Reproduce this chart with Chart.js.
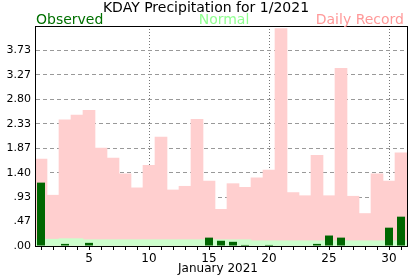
<!DOCTYPE html>
<html>
<head>
<meta charset="utf-8">
<script src="https://cdn.jsdelivr.net/npm/chart.js@4.4.1/dist/chart.umd.min.js"></script>
<style>
  html, body { margin: 0; padding: 0; background: #fff; }
  #wrap { width: 417px; height: 276px; }
</style>
</head>
<body>
<div id="wrap"><canvas id="chart"></canvas></div>
<script>
const days = ['1','2','3','4','5','6','7','8','9','10','11','12','13','14','15','16',
              '17','18','19','20','21','22','23','24','25','26','27','28','29','30','31'];
const observed = [1.21, 0, 0.04, 0, 0.06, 0, 0, 0, 0, 0, 0, 0, 0, 0, 0.16, 0.10,
                  0.08, 0.02, 0, 0.02, 0, 0, 0, 0.04, 0.20, 0.16, 0, 0, 0, 0.35, 0.56];
const normal = [0.13, 0.13, 0.14, 0.14, 0.12, 0.12, 0.12, 0.12, 0.12, 0.12, 0.12, 0.12, 0.12, 0.12, 0.12, 0.12,
                0.12, 0.12, 0.10, 0.10, 0.10, 0.10, 0.10, 0.10, 0.10, 0.10, 0.10, 0.10, 0.10, 0.10, 0.10];
const record = [1.66, 0.97, 2.41, 2.50, 2.59, 1.87, 1.68, 1.38, 1.11, 1.54, 2.08, 1.07, 1.14, 2.42, 1.24, 0.70,
                1.19, 1.12, 1.30, 1.45, 4.15, 1.02, 0.96, 1.73, 0.96, 3.39, 0.95, 0.62, 1.38, 1.24, 1.78];
const yTickValues = [0, 0.4667, 0.9333, 1.4, 1.8667, 2.3333, 2.8, 3.2667, 3.7333, 4.2];
const yTickLabels = ['.00', '.47', '.93', '1.40', '1.87', '2.33', '2.80', '3.27', '3.73', ''];
const xLabelDays = ['5', '10', '15', '20', '25', '30'];
const xGridDays = ['10', '20', '30'];

const FONT = '"DejaVu Sans", Verdana, sans-serif';

const frame = {
  id: 'frame',
  afterDraw(chart) {
    const { ctx, chartArea: a } = chart;
    ctx.save();
    ctx.strokeStyle = '#000';
    ctx.lineWidth = 1;
    ctx.strokeRect(a.left + 0.5, a.top + 0.5, a.right - a.left, a.bottom - a.top);

    ctx.textBaseline = 'alphabetic';
    ctx.font = '14px ' + FONT;
    ctx.fillStyle = '#000';
    ctx.textAlign = 'center';
    ctx.fillText('KDAY Precipitation for 1/2021', 206, 12);

    ctx.textAlign = 'left';
    ctx.fillStyle = '#007000';
    ctx.fillText('Observed', 36, 24);
    ctx.textAlign = 'center';
    ctx.fillStyle = '#90ff90';
    ctx.fillText('Normal', 224, 24);
    ctx.textAlign = 'right';
    ctx.fillStyle = '#ff9999';
    ctx.fillText('Daily Record', 404, 24);

    ctx.font = '12px ' + FONT;
    ctx.fillStyle = '#000';
    ctx.textAlign = 'center';
    ctx.fillText('January 2021', 218, 272);
    ctx.restore();
  }
};

new Chart(document.getElementById('chart'), {
  type: 'bar',
  data: {
    labels: days,
    datasets: [
      {
        label: 'Observed',
        data: observed,
        backgroundColor: '#006600',
        barPercentage: 0.67,
        categoryPercentage: 1,
        grouped: false,
        order: 0
      },
      {
        label: 'Normal',
        data: normal,
        backgroundColor: '#ccffcc',
        barPercentage: 1,
        categoryPercentage: 1,
        grouped: false,
        order: 1
      },
      {
        label: 'Daily Record',
        data: record,
        backgroundColor: '#ffcfcf',
        barPercentage: 1,
        categoryPercentage: 1,
        grouped: false,
        order: 2
      }
    ]
  },
  options: {
    responsive: true,
    maintainAspectRatio: false,
    animation: false,
    events: [],
    layout: { padding: { top: 26, right: 10, left: 0, bottom: 0 } },
    plugins: {
      legend: { display: false },
      title: { display: false },
      tooltip: { enabled: false }
    },
    scales: {
      x: {
        offset: true,
        afterFit(scale) { scale.height = 30; },
        grid: {
          offset: false,
          drawOnChartArea: true,
          drawTicks: true,
          tickLength: 4,
          tickColor: '#000',
          tickBorderDash: [],
          lineWidth: 1,
          color: (c) => (c.tick && xGridDays.includes(days[c.index])) ? '#777' : 'rgba(0,0,0,0)'
        },
        border: { display: true, color: '#000', width: 1, dash: [1, 2] },
        ticks: {
          autoSkip: false,
          maxRotation: 0,
          padding: 2,
          color: '#000',
          font: { family: FONT, size: 12 },
          callback: (v, i) => xLabelDays.includes(days[i]) ? days[i] : ''
        }
      },
      y: {
        min: 0,
        max: 4.2,
        afterFit(scale) { scale.width = 35; },
        afterBuildTicks(scale) { scale.ticks = yTickValues.map(v => ({ value: v })); },
        grid: {
          drawTicks: false,
          lineWidth: 1,
          color: (c) => (c.index > 0 && c.index < yTickValues.length - 1) ? '#999' : 'rgba(0,0,0,0)'
        },
        border: { display: true, color: '#000', width: 1, dash: [4, 3] },
        ticks: {
          padding: 4,
          color: '#000',
          font: { family: FONT, size: 11 },
          callback: (v, i) => yTickLabels[i]
        }
      }
    }
  },
  plugins: [frame]
});
</script>
</body>
</html>
